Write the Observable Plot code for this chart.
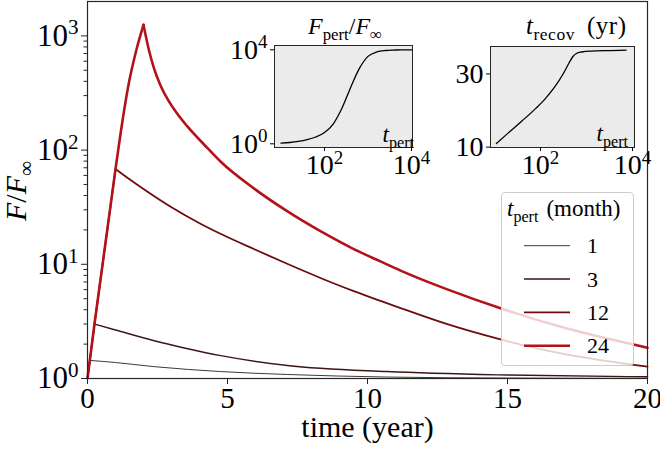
<!DOCTYPE html>
<html><head><meta charset="utf-8">
<script src="https://cdn.jsdelivr.net/npm/d3@7"></script>
<script src="https://cdn.jsdelivr.net/npm/@observablehq/plot@0.6"></script>
<style>
body{margin:0;background:#fff;}
#wrap{position:relative;width:660px;height:451px;overflow:hidden;background:#fff;}
#wrap svg{overflow:visible;}
.abs{position:absolute;}
</style></head><body><div id="wrap"></div>
<script>
// ---- data ----
const riseTime = [0, 0.083, 0.25, 0.5, 0.75, 1.0, 1.2, 1.48, 1.75, 2.0];
const riseF    = [1, 1.44, 3.0, 8.5, 24, 68, 150, 390, 760, 1250];

const months = [1, 3, 12, 24];
const seriesColors = ["#2b2020", "#3d1515", "#6e0c0c", "#b3121a"];
const seriesWidths = [0.9, 1.4, 1.8, 2.6];

const decayTime1 = [0.083, 1, 2.38, 4.76, 7.14, 10.7, 15, 20];
const decayF1    = [1.44, 1.38, 1.27, 1.15, 1.084, 1.03, 1.009, 1.003];
const decayTime3 = [0.25, 1, 2.38, 3.5, 4.76, 7.14, 10.7, 15, 20];
const decayF3    = [3.0, 2.66, 2.14, 1.84, 1.585, 1.30, 1.15, 1.072, 1.035];
const decayTime12 = [1, 1.5, 2, 3, 4, 4.75, 5.94, 7.13, 8.32, 9.51, 10.46, 11.18, 12.85, 14.75, 17, 20];
const decayF12    = [68.4, 55.6, 45.7, 31.6, 22.9, 18.5, 13.6, 10.1, 7.59, 5.82, 4.79, 4.14, 2.99, 2.20, 1.64, 1.27];
const decayTime24 = [2, 2.2, 2.37, 2.6, 2.85, 3.2, 3.56, 4.27, 4.75, 5.94, 7.13, 8.32, 9.51, 10.46, 11.18, 12.85, 14.75, 17, 20];
const decayF24    = [1250, 741, 525, 372, 282, 209, 162, 105, 79.4, 46.2, 29.2, 19.5, 13.6, 10.6, 8.81, 6.03, 4.12, 2.79, 1.86];

const insetTpertA = [10, 16, 25, 40, 63, 100, 160, 250, 400, 630, 1000, 1600, 2500, 4000, 6300, 10000];
const insetFpert  = [1.07, 1.135, 1.26, 1.5, 1.95, 3.0, 7.1, 31.6, 251, 1585, 5250, 8130, 9330, 9770, 10000, 10000];
const insetTpertB = [11, 20, 40, 79, 126, 200, 316, 417, 501, 603, 794, 1259, 3162, 7244];
const insetTrecov = [11.0, 13.9, 17.2, 20.6, 23.2, 26.3, 30.2, 33.0, 34.7, 35.6, 36.0, 36.25, 36.4, 36.5];

const xTicks = [0, 5, 10, 15, 20];
const yMajorTicks = [1, 10, 100, 1000];
const yMinorTicks = [2,3,4,5,6,7,8,9,20,30,40,50,60,70,80,90,200,300,400,500,600,700,800,900];
const insetLogTicksX = [100, 10000];
const insetATicksY = [1, 10000];
const insetBTicksY = [10, 30];

// ---- build ----
const FONT = '"Liberation Serif", "Times New Roman", "DejaVu Serif", serif';
const NS = "http://www.w3.org/2000/svg";
const wrap = document.getElementById("wrap");
const decays = [[decayTime1, decayF1], [decayTime3, decayF3], [decayTime12, decayF12], [decayTime24, decayF24]];

function seriesRows(i) {
  const tEnd = months[i] / 12;
  const rows = [];
  riseTime.forEach((t, k) => { if (t <= tEnd + 1e-6) rows.push({t, F: riseF[k], seg: "rise"}); });
  decays[i][0].forEach((t, k) => rows.push({t, F: decays[i][1][k], seg: "decay"}));
  return rows;
}
const supFmt = d => "10^" + Math.round(Math.log10(d));

const lineMarks = months.map((m, i) => Plot.line(seriesRows(i), {
  x: "t", y: "F", z: "seg", stroke: seriesColors[i], strokeWidth: seriesWidths[i], curve: "monotone-x"
}));

const main = Plot.plot({
  width: 660, height: 451, marginLeft: 87, marginRight: 13, marginTop: 1, marginBottom: 73,
  style: {fontFamily: FONT, background: "transparent", color: "#000", overflow: "visible"},
  x: {domain: [0, 20], label: null},
  y: {type: "log", domain: [1, 2000], label: null},
  marks: [
    ...lineMarks,
    Plot.frame({stroke: "#262626", strokeWidth: 1.2}),
    Plot.axisY(yMinorTicks, {tickSize: 3.5, tickFormat: () => "", label: null, stroke: "#262626"}),
    Plot.axisY(yMajorTicks, {tickSize: 6, tickPadding: 3, fontSize: 31, tickFormat: supFmt, label: null, stroke: "#262626"}),
    Plot.axisX(xTicks, {tickSize: 6, tickPadding: 3, fontSize: 29, label: null, stroke: "#262626"}),
    Plot.text(["time (year)"], {frameAnchor: "bottom", dy: 58, fontSize: 30, text: d => d})
  ]
});
main.classList.add("abs"); main.style.left = "0px"; main.style.top = "0px";
wrap.appendChild(main);

const insetA = Plot.plot({
  width: 190, height: 140, marginLeft: 44, marginRight: 8, marginTop: 5, marginBottom: 33,
  style: {fontFamily: FONT, background: "transparent", color: "#000", overflow: "visible"},
  x: {type: "log", domain: [7.1, 10540], label: null},
  y: {type: "log", domain: [0.696, 15240], label: null},
  marks: [
    Plot.frame({fill: "#ebebeb"}),
    Plot.line(insetTpertA.map((t, k) => ({t, v: insetFpert[k]})), {x: "t", y: "v", curve: "monotone-x", stroke: "#000", strokeWidth: 1.3}),
    Plot.frame({stroke: "#262626"}),
    Plot.axisX(insetLogTicksX, {tickSize: 4, tickPadding: 3, fontSize: 28, tickFormat: supFmt, label: null}),
    Plot.axisY(insetATicksY, {tickSize: 4, tickPadding: 3, fontSize: 28, tickFormat: supFmt, label: null})
  ]
});
insetA.classList.add("abs"); insetA.style.left = "230px"; insetA.style.top = "40px";
wrap.appendChild(insetA);

const insetB = Plot.plot({
  width: 200, height: 140, marginLeft: 50, marginRight: 6, marginTop: 6, marginBottom: 33,
  style: {fontFamily: FONT, background: "transparent", color: "#000", overflow: "visible"},
  x: {type: "log", domain: [8.18, 11040], label: null},
  y: {domain: [9.9, 37.5], label: null},
  marks: [
    Plot.frame({fill: "#ebebeb"}),
    Plot.line(insetTpertB.map((t, k) => ({t, v: insetTrecov[k]})), {x: "t", y: "v", curve: "monotone-x", stroke: "#000", strokeWidth: 1.3}),
    Plot.frame({stroke: "#262626"}),
    Plot.axisX(insetLogTicksX, {tickSize: 4, tickPadding: 3, fontSize: 28, tickFormat: supFmt, label: null}),
    Plot.axisY(insetBTicksY, {tickSize: 4, tickPadding: 3, fontSize: 28, tickFormat: d => String(d), label: null})
  ]
});
insetB.classList.add("abs"); insetB.style.left = "440px"; insetB.style.top = "40px";
wrap.appendChild(insetB);

// superscripts on "10^k" tick labels
function fixSup(svg, fs) {
  svg.querySelectorAll("text").forEach(t => {
    const m = /^10\^(-?\d+)$/.exec(t.textContent.trim());
    if (!m) return;
    t.textContent = "10";
    const ts = document.createElementNS(NS, "tspan");
    ts.setAttribute("font-size", (fs * 0.68).toFixed(1));
    ts.setAttribute("dy", (-fs * 0.37).toFixed(1));
    ts.textContent = m[1];
    t.appendChild(ts);
  });
}
fixSup(main, 31); fixSup(insetA, 28); fixSup(insetB, 28);

// legend box
const leg = document.createElement("div");
leg.className = "abs";
Object.assign(leg.style, {left: "501px", top: "192px", width: "133px", height: "174px", boxSizing: "border-box",
  background: "rgba(255,255,255,0.8)", border: "1px solid #cccccc", borderRadius: "4px"});
wrap.appendChild(leg);

// overlay for text annotations and legend keys
const ov = document.createElementNS(NS, "svg");
ov.setAttribute("width", 660); ov.setAttribute("height", 451);
ov.setAttribute("class", "abs"); ov.style.left = "0px"; ov.style.top = "0px";
ov.style.fontFamily = FONT; ov.style.pointerEvents = "none";
wrap.appendChild(ov);

function rich(x, y, size, parts, anchor, transform) {
  const t = document.createElementNS(NS, "text");
  t.setAttribute("x", x); t.setAttribute("y", y);
  t.setAttribute("font-size", size); t.setAttribute("text-anchor", anchor || "start");
  t.setAttribute("fill", "#000");
  if (transform) { t.setAttribute("transform", transform); t.setAttribute("x", 0); t.setAttribute("y", 0); }
  let off = 0;
  parts.forEach(p => {
    const s = document.createElementNS(NS, "tspan");
    const target = p.sub ? size * 0.24 : 0;
    if (target !== off) { s.setAttribute("dy", (target - off).toFixed(1)); off = target; }
    if (p.sub) s.setAttribute("font-size", (size * 0.7).toFixed(1));
    if (p.i) s.setAttribute("font-style", "italic");
    if (p.dx) s.setAttribute("dx", p.dx);
    s.textContent = p.t;
    t.appendChild(s);
  });
  ov.appendChild(t);
  return t;
}

// y axis label
rich(0, 0, 30, [{t: "F", i: true}, {t: "/"}, {t: "F", i: true}, {t: "∞", sub: true}], "middle", "translate(26,191) rotate(-90)");
// inset titles
rich(345, 34, 24, [{t: "F", i: true}, {t: "pert", sub: true}, {t: "/"}, {t: "F", i: true}, {t: "∞", sub: true}], "middle");
const t2 = rich(526, 34, 25, [{t: "t", i: true}, {t: "recov", sub: true}, {t: "(yr)", dx: 12}], "start");
t2.setAttribute("textLength", 100); t2.setAttribute("lengthAdjust", "spacing");
// inset x labels
rich(414, 142, 23, [{t: "t", i: true}, {t: "pert", sub: true}], "end");
rich(628, 141, 23, [{t: "t", i: true}, {t: "pert", sub: true}], "end");

// legend content
rich(507, 216, 23, [{t: "t", i: true}, {t: "pert", sub: true}, {t: "(month)", dx: 8}], "start");
const rowY = [245.7, 279, 312.3, 345.7];
months.forEach((m, i) => {
  const l = document.createElementNS(NS, "line");
  l.setAttribute("x1", 524); l.setAttribute("x2", 570);
  l.setAttribute("y1", rowY[i]); l.setAttribute("y2", rowY[i]);
  l.setAttribute("stroke", seriesColors[i]); l.setAttribute("stroke-width", seriesWidths[i]);
  ov.appendChild(l);
  rich(587, rowY[i] + 7.5, 22, [{t: String(m)}], "start");
});
</script>
</body></html>
